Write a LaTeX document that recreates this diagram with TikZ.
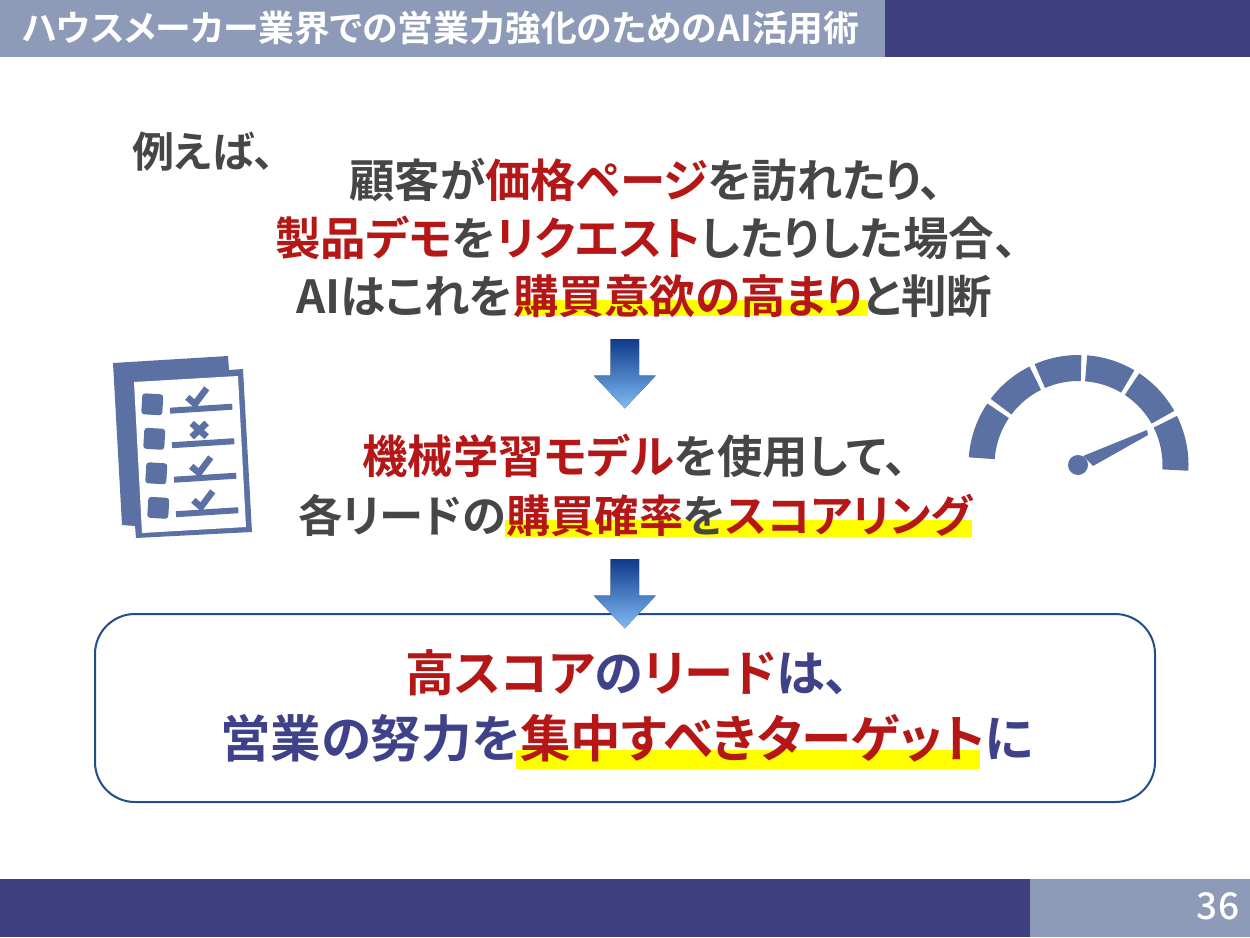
\documentclass[tikz,border=0pt]{standalone}
\usepackage{fontspec}
\setmainfont{Noto Sans CJK JP Bold}[RawFeature=+palt]
\newfontfamily\numfont{Noto Sans CJK JP Medium}
\definecolor{navy}{HTML}{3F4080}
\definecolor{steel}{HTML}{8E9BB8}
\definecolor{icon}{HTML}{5B71A3}
\definecolor{redt}{HTML}{B51616}
\definecolor{grayt}{HTML}{464646}
\definecolor{bluet}{HTML}{3F4288}
\definecolor{boxline}{HTML}{1F4E8C}
\definecolor{mark}{HTML}{FFFF00}
\definecolor{arrowtop}{HTML}{0F3A8A}
\definecolor{arrowbot}{HTML}{80BBF5}
\newcommand{\R}[1]{\textcolor{redt}{#1}}
\newcommand{\fs}[1]{\fontsize{#1}{#1}\selectfont}
\tikzset{
  x=1pt,y=-1pt,
  body/.style={anchor=west,text=grayt,inner sep=0pt},
  navybody/.style={body,text=bluet},
  downarrow/.style={top color=arrowtop,bottom color=arrowbot,draw=none},
  hl/.style={fill=mark,draw=none},
  seg/.style={fill=icon,draw=none},
  ln/.style={draw=icon,line width=6pt},
  chk/.style={draw=icon,line width=6.5pt,line join=miter}
}
\begin{document}
\begin{tikzpicture}
\useasboundingbox (0,0) rectangle (1250,937);
\fill[white] (0,0) rectangle (1250,937);
% bars
\fill[steel] (0,0) rectangle (885,57);
\fill[navy] (885,0) rectangle (1250,57);
\fill[navy] (0,879) rectangle (1030,937);
\fill[steel] (1030,879) rectangle (1250,937);
\node[anchor=west,text=white,inner sep=0pt,font=\fs{35.8}] (title) at (22,28) {ハウスメーカー業界での営業力強化のためのAI活用術};
\node[text=white,inner sep=0pt,font=\fs{37}\numfont] (page) at (1218,906) {36};
% highlights
\fill[hl] (517,300) rectangle (868,316);
\fill[hl] (505,520) rectangle (972,537);
\fill[hl] (516,750) rectangle (980,769);
% box
\draw[boxline,line width=2pt,rounded corners=40pt] (95,614) rectangle (1155,802);
% text
\node[anchor=west,inner sep=0pt,text=grayt,font=\fs{42}] (ex) at (132,152) {例えば、};
\node[body,font=\fs{45.4}] (t1a) at (349,180) {顧客が\R{価格ページ}を訪れたり、};
\node[body,font=\fs{45.5}] (t1b) at (275,238) {\R{製品デモ}を\R{リクエスト}したりした場合、};
\node[body,font=\fs{45.6}] (t1c) at (296,296) {AIはこれを\R{購買意欲の高まり}と判断};
\node[body,font=\fs{45.4}] (t2a) at (362,456) {\R{機械学習モデル}を使用して、};
\node[body,font=\fs{44.3}] (t2b) at (298,515) {各リードの\R{購買確率}を\R{スコアリング}};
\node[navybody,font=\fs{49.2}] (t3a) at (405,673) {\R{高スコア}の\R{リード}は、};
\node[navybody,font=\fs{50.5}] (t3b) at (220,738) {営業の努力を\R{集中すべきターゲット}に};
% arrows
\fill[downarrow] (610.7,339) -- (639,339) -- (639,375.7) -- (655.7,375.7) -- (624.7,408.3) -- (594,375.7) -- (610.7,375.7) -- cycle;
\fill[downarrow] (610.7,559) -- (639,559) -- (639,595.7) -- (655.7,595.7) -- (624.7,628.3) -- (594,595.7) -- (610.7,595.7) -- cycle;
% checklist
\fill[icon] (113,363) -- (228,356) -- (229,370) -- (243,369) -- (252,532) -- (136,538) -- (135,526) -- (122,525) -- cycle;
\fill[white] (134,382) -- (238,376) -- (246,527) -- (142,533) -- cycle;
\foreach \dx/\dy in {0/0,2/34.5,4/69,6/103.5}{
  \begin{scope}[shift={(\dx,\dy)}]
    \fill[icon,rounded corners=3pt,rotate around={-3.5:(152.3,404.3)}] (141.8,393.8) rectangle (162.8,414.8);
    \draw[ln] (170,410.7) -- (232.3,406.7);
  \end{scope}
}
\draw[chk] (187.3,397.3) -- (195,404) -- (206.7,388.3);
\draw[draw=icon,line width=6.5pt] (191.7,423.3) -- (206.7,436.7) (206.7,423) -- (191.7,437);
\draw[chk] (191.3,466.3) -- (199,473) -- (210.7,457.3);
\draw[chk] (193.3,500.3) -- (201,507) -- (212.7,491.3);
% gauge
\foreach \a/\b in {176/146,143/116.5,113.5/88.5,85.5/59.5,56.5/29.5,26.5/-3}{
  \fill[seg] ({1078.5+110*cos(\a)},{465-110*sin(\a)}) arc[start angle=-\a,end angle=-\b,radius=110] -- ({1078.5+84*cos(\b)},{465-84*sin(\b)}) arc[start angle=-\b,end angle=-\a,radius=84] -- cycle;
}
\fill[icon] (1078,465) circle (10);
\fill[icon] (1083,456) -- (1147,430) -- (1148,435) -- (1093,466) -- cycle;
\end{tikzpicture}
\end{document}
